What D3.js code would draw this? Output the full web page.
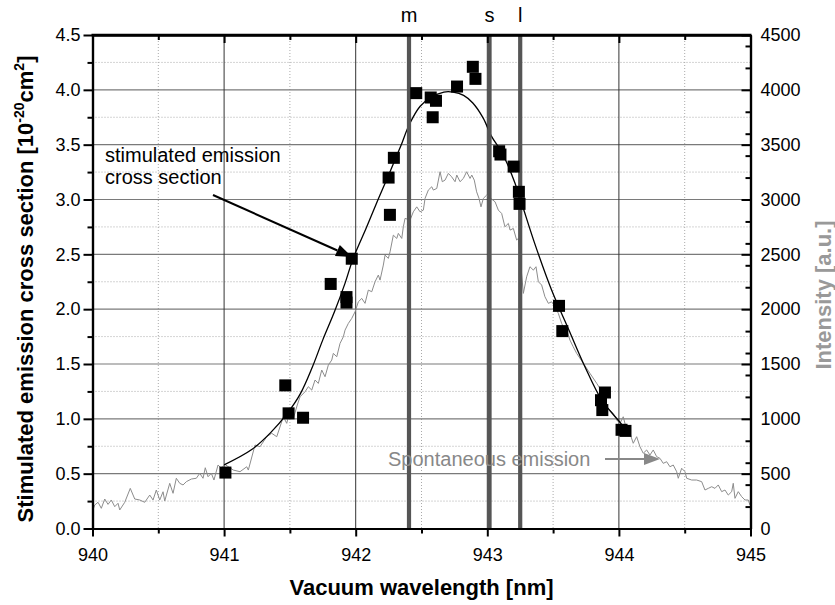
<!DOCTYPE html>
<html>
<head>
<meta charset="utf-8">
<script src="https://cdn.jsdelivr.net/npm/d3@7"></script>
<style>
  body { margin: 0; background: #fff; }
  svg text { font-family: Arial, "Liberation Sans", sans-serif; }
</style>
</head>
<body>
<svg id="chart" width="835" height="605"></svg>
<script>
// measured emission cross section (squares)
const ptWl = [941.01, 941.465, 941.49, 941.60, 941.81, 941.93, 941.93, 941.97, 942.25, 942.26, 942.29,
  942.46, 942.57, 942.585, 942.61, 942.77, 942.89, 942.91, 943.09, 943.10, 943.20, 943.24, 943.245,
  943.545, 943.57, 943.894, 943.864, 943.874, 944.02, 944.05];
const ptSigma = [0.51, 1.305, 1.05, 1.01, 2.23, 2.11, 2.06, 2.46, 3.20, 2.86, 3.38,
  3.97, 3.93, 3.75, 3.90, 4.03, 4.21, 4.10, 3.44, 3.41, 3.30, 3.07, 2.96,
  2.03, 1.80, 1.24, 1.17, 1.08, 0.90, 0.89];

// fitted curve (black line)
const fitWl = [941.00, 941.21, 941.35, 941.48, 941.58, 941.67, 941.75, 941.84, 941.92, 941.98, 942.08,
  942.17, 942.26, 942.34, 942.41, 942.49, 942.57, 942.67, 942.74, 942.82, 942.89, 942.97, 943.03,
  943.10, 943.15, 943.21, 943.26, 943.36, 943.49, 943.62, 943.74, 943.87, 944.00, 944.07];
const fitSigma = [0.58, 0.72, 0.87, 1.05, 1.23, 1.47, 1.72, 1.98, 2.24, 2.46, 2.74,
  3.00, 3.25, 3.48, 3.69, 3.85, 3.93, 3.98, 3.98, 3.95, 3.88, 3.74, 3.58,
  3.45, 3.33, 3.15, 2.97, 2.60, 2.17, 1.81, 1.48, 1.17, 0.98, 0.88];

// spontaneous emission spectrum (grey, right axis)
const specWl = [940.000, 940.017, 940.042, 940.067, 940.093, 940.118, 940.143, 940.169, 940.194, 940.207,
  940.245, 940.287, 940.321, 940.359, 940.397, 940.435, 940.460, 940.485, 940.511, 940.536,
  940.549, 940.587, 940.612, 940.637, 940.663, 940.688, 940.713, 940.751, 940.789, 940.815,
  940.840, 940.857, 940.878, 940.903, 940.923, 940.954, 940.979, 941.005, 941.070, 941.121,
  941.172, 941.184, 941.235, 941.273, 941.324, 941.362, 941.400, 941.450, 941.476, 941.501,
  941.526, 941.556, 941.577, 941.615, 941.640, 941.666, 941.691, 941.716, 941.742, 941.767,
  941.792, 941.818, 941.830, 941.856, 941.881, 941.906, 941.919, 941.944, 941.970, 941.995,
  942.020, 942.046, 942.071, 942.096, 942.122, 942.147, 942.172, 942.185, 942.210, 942.223,
  942.248, 942.261, 942.286, 942.312, 942.324, 942.350, 942.362, 942.375, 942.413, 942.438,
  942.464, 942.489, 942.514, 942.527, 942.552, 942.578, 942.590, 942.616, 942.641, 942.658,
  942.679, 942.704, 942.729, 942.755, 942.768, 942.793, 942.818, 942.843, 942.869, 942.882,
  942.901, 942.919, 942.937, 942.952, 942.970, 942.995, 943.059, 943.084, 943.109, 943.134,
  943.160, 943.173, 943.198, 943.223, 943.236, 943.274, 943.299, 943.324, 943.350, 943.370,
  943.388, 943.413, 943.438, 943.464, 943.489, 943.514, 943.540, 943.565, 943.577, 943.603,
  943.628, 943.653, 943.679, 943.730, 943.780, 943.831, 943.856, 943.881, 943.907, 943.957,
  943.983, 944.008, 944.033, 944.059, 944.084, 944.109, 944.135, 944.160, 944.185, 944.211,
  944.236, 944.261, 944.287, 944.312, 944.337, 944.363, 944.388, 944.413, 944.439, 944.451,
  944.477, 944.502, 944.515, 944.553, 944.591, 944.629, 944.654, 944.679, 944.705, 944.730,
  944.755, 944.781, 944.806, 944.831, 944.857, 944.869, 944.882, 944.907, 944.933, 944.958,
  944.983, 944.996];
const specInt = [160, 214, 239, 184, 269, 220, 260, 199, 230, 169,
  239, 366, 269, 260, 239, 305, 260, 351, 260, 335,
  251, 412, 321, 458, 412, 397, 427, 451, 458, 503,
  458, 554, 472, 503, 442, 579, 549, 585, 533, 518,
  563, 533, 761, 746, 837, 868, 837, 1019, 959, 1080,
  1004, 1126, 1201, 1247, 1293, 1262, 1354, 1323, 1445, 1384,
  1490, 1536, 1597, 1566, 1688, 1748, 1809, 1870, 1916, 1976,
  2067, 2098, 2053, 2174, 2159, 2250, 2311, 2265, 2402, 2493,
  2463, 2523, 2675, 2645, 2691, 2645, 2751, 2828, 2812, 2888,
  2933, 2888, 2903, 3010, 3086, 3116, 3086, 3101, 3253, 3162,
  3177, 3238, 3207, 3162, 3223, 3162, 3192, 3253, 3192, 3223,
  3177, 3070, 3010, 2933, 3010, 3040, 2979, 2903, 2873, 2751,
  2782, 2721, 2736, 2630, 2645, 2144, 2295, 2387, 2356, 2387,
  2250, 2220, 2113, 2053, 2067, 2022, 1961, 1870, 1840, 1809,
  1718, 1657, 1597, 1506, 1415, 1324, 1278, 1171, 1110, 1050,
  989, 959, 1019, 898, 868, 777, 837, 746, 686, 716,
  670, 716, 655, 640, 594, 609, 563, 579, 518, 458,
  549, 518, 458, 442, 442, 427, 351, 366, 381, 366,
  397, 336, 351, 305, 336, 412, 275, 336, 290, 260,
  260, 214];

// laser lines
const lineWl = [942.405, 943.017, 943.25];
const lineLabels = ["m", "s", "l"];

const xTicks = [940, 941, 942, 943, 944, 945];
const xMinor = [940.5, 941.5, 942.5, 943.5, 944.5];
const yTicks = [0, 0.5, 1.0, 1.5, 2.0, 2.5, 3.0, 3.5, 4.0, 4.5];
const yMinor = [0.25, 0.75, 1.25, 1.75, 2.25, 2.75, 3.25, 3.75, 4.25];
const yRTicks = [0, 500, 1000, 1500, 2000, 2500, 3000, 3500, 4000, 4500];

const svg = d3.select("#chart");
const L = 92.5, R = 750.5, T = 35, B = 528.5;

const x = d3.scaleLinear().domain([940, 945]).range([L, R]);
const y = d3.scaleLinear().domain([0, 4.5]).range([B, T]);
const yR = d3.scaleLinear().domain([0, 4500]).range([B, T]);

// grid
const grid = svg.append("g");
grid.selectAll(".gminx").data(xMinor).join("line")
  .attr("x1", d => x(d)).attr("x2", d => x(d)).attr("y1", T).attr("y2", B)
  .attr("stroke", "#aaa").attr("stroke-width", 1).attr("stroke-dasharray", "1,2");
grid.selectAll(".gminy").data(yMinor).join("line")
  .attr("x1", L).attr("x2", R).attr("y1", d => y(d)).attr("y2", d => y(d))
  .attr("stroke", "#aaa").attr("stroke-width", 1).attr("stroke-dasharray", "1,2");
grid.selectAll(".gmajy").data(yTicks.slice(1, -1)).join("line")
  .attr("x1", L).attr("x2", R).attr("y1", d => y(d)).attr("y2", d => y(d))
  .attr("stroke", "#7a7a7a").attr("stroke-width", 1.2);
grid.selectAll(".gmajx").data(xTicks.slice(1, -1)).join("line")
  .attr("x1", d => x(d)).attr("x2", d => x(d)).attr("y1", T).attr("y2", B)
  .attr("stroke", "#333").attr("stroke-width", 1);

// spectrum
svg.append("path")
  .datum(specWl.map((w, i) => [w, specInt[i]]))
  .attr("fill", "none").attr("stroke", "#8c8c8c").attr("stroke-width", 1)
  .attr("d", d3.line().x(d => x(d[0])).y(d => yR(d[1])));

// fit
svg.append("path")
  .datum(fitWl.map((w, i) => [w, fitSigma[i]]))
  .attr("fill", "none").attr("stroke", "#000").attr("stroke-width", 1.3)
  .attr("d", d3.line().curve(d3.curveCatmullRom).x(d => x(d[0])).y(d => y(d[1])));

// m, s, l lines
svg.selectAll(".laser").data(lineWl).join("line")
  .attr("x1", d => x(d)).attr("x2", d => x(d)).attr("y1", T).attr("y2", B)
  .attr("stroke", "#555").attr("stroke-width", 4.2);
svg.selectAll(".laserLab").data(lineWl).join("text")
  .attr("x", d => x(d)).attr("y", 22).attr("text-anchor", "middle")
  .attr("font-size", 20).text((d, i) => lineLabels[i]);

// squares
svg.selectAll(".pt").data(ptWl).join("rect")
  .attr("x", d => x(d) - 6).attr("y", (d, i) => y(ptSigma[i]) - 6)
  .attr("width", 12).attr("height", 12).attr("fill", "#000");

// axes
const fmt1 = d3.format(".1f");
const styleAxis = g => {
  g.select(".domain").attr("stroke", "#000").attr("stroke-width", 2.2);
  g.selectAll(".tick line").attr("stroke", "#000").attr("stroke-width", 2);
  g.selectAll("text").attr("font-size", 18).attr("fill", "#000")
    .attr("font-family", "Arial, 'Liberation Sans', sans-serif");
};

svg.append("g").attr("transform", `translate(${L},0)`)
  .call(d3.axisLeft(y).tickValues(yMinor).tickSize(5).tickFormat("").tickSizeOuter(0))
  .call(styleAxis);
svg.append("g").attr("transform", `translate(${L},0)`)
  .call(d3.axisLeft(y).tickValues(yTicks).tickSize(9).tickPadding(3).tickFormat(fmt1).tickSizeOuter(0))
  .call(styleAxis);

svg.append("g").attr("transform", `translate(${R},0)`)
  .call(d3.axisRight(yR).tickValues(yR.ticks(18).filter(d => d % 500 !== 0)).tickSize(-5).tickFormat("").tickSizeOuter(0))
  .call(styleAxis);
svg.append("g").attr("transform", `translate(${R},0)`)
  .call(d3.axisRight(yR).tickValues(yRTicks).tickSize(-9).tickPadding(10).tickFormat(d3.format("d")).tickSizeOuter(0))
  .call(styleAxis);

svg.append("g").attr("transform", `translate(0,${B})`)
  .call(d3.axisBottom(x).tickValues(xMinor).tickSize(5).tickFormat("").tickSizeOuter(0))
  .call(styleAxis);
svg.append("g").attr("transform", `translate(0,${B})`)
  .call(d3.axisBottom(x).tickValues(xTicks).tickSize(8).tickPadding(12).tickFormat(d3.format("d")).tickSizeOuter(0))
  .call(styleAxis);

svg.append("g").attr("transform", `translate(0,${T})`)
  .call(d3.axisTop(x).tickValues(xMinor).tickSize(-5).tickFormat("").tickSizeOuter(0))
  .call(styleAxis);
svg.append("g").attr("transform", `translate(0,${T})`)
  .call(d3.axisTop(x).tickValues(xTicks).tickSize(-8).tickFormat("").tickSizeOuter(0))
  .call(styleAxis);
svg.append("line").attr("x1", L - 1).attr("x2", R + 1).attr("y1", T).attr("y2", T)
  .attr("stroke", "#000").attr("stroke-width", 2.6);

// titles
svg.append("text").attr("x", (L + R) / 2).attr("y", 595).attr("text-anchor", "middle")
  .attr("font-size", 22).attr("font-weight", "bold").text("Vacuum wavelength [nm]");

const yt = svg.append("text").attr("transform", "translate(33,289) rotate(-90)")
  .attr("text-anchor", "middle").attr("font-size", 22).attr("font-weight", "bold");
yt.append("tspan").text("Stimulated emission cross section [10");
yt.append("tspan").attr("font-size", 14).attr("dy", -9).text("-20");
yt.append("tspan").attr("dy", 9).text("cm");
yt.append("tspan").attr("font-size", 14).attr("dy", -9).text("2");
yt.append("tspan").attr("dy", 9).text("]");

svg.append("text").attr("transform", "translate(831,295) rotate(-90)")
  .attr("text-anchor", "middle").attr("font-size", 22).attr("font-weight", "bold")
  .attr("fill", "#999").text("Intensity [a.u.]");

// annotations
const arrow = (x1, y1, x2, y2, color, w) => {
  const a = Math.atan2(y2 - y1, x2 - x1), hl = 16, hw = 6;
  const bx = x2 - hl * Math.cos(a), by = y2 - hl * Math.sin(a);
  svg.append("line").attr("x1", x1).attr("y1", y1).attr("x2", bx).attr("y2", by)
    .attr("stroke", color).attr("stroke-width", w);
  svg.append("path")
    .attr("d", `M${x2},${y2} L${bx - hw * Math.sin(a)},${by + hw * Math.cos(a)} L${bx + hw * Math.sin(a)},${by - hw * Math.cos(a)} Z`)
    .attr("fill", color);
};

svg.append("text").attr("x", 105).attr("y", 162).attr("font-size", 20).text("stimulated emission");
svg.append("text").attr("x", 105).attr("y", 184).attr("font-size", 20).text("cross section");
arrow(213, 195, 352, 257, "#000", 2);

svg.append("text").attr("x", 388).attr("y", 466).attr("font-size", 20).attr("fill", "#888")
  .text("Spontaneous emission");
arrow(605, 459, 660, 459, "#888", 2.2);
</script>
</body>
</html>
